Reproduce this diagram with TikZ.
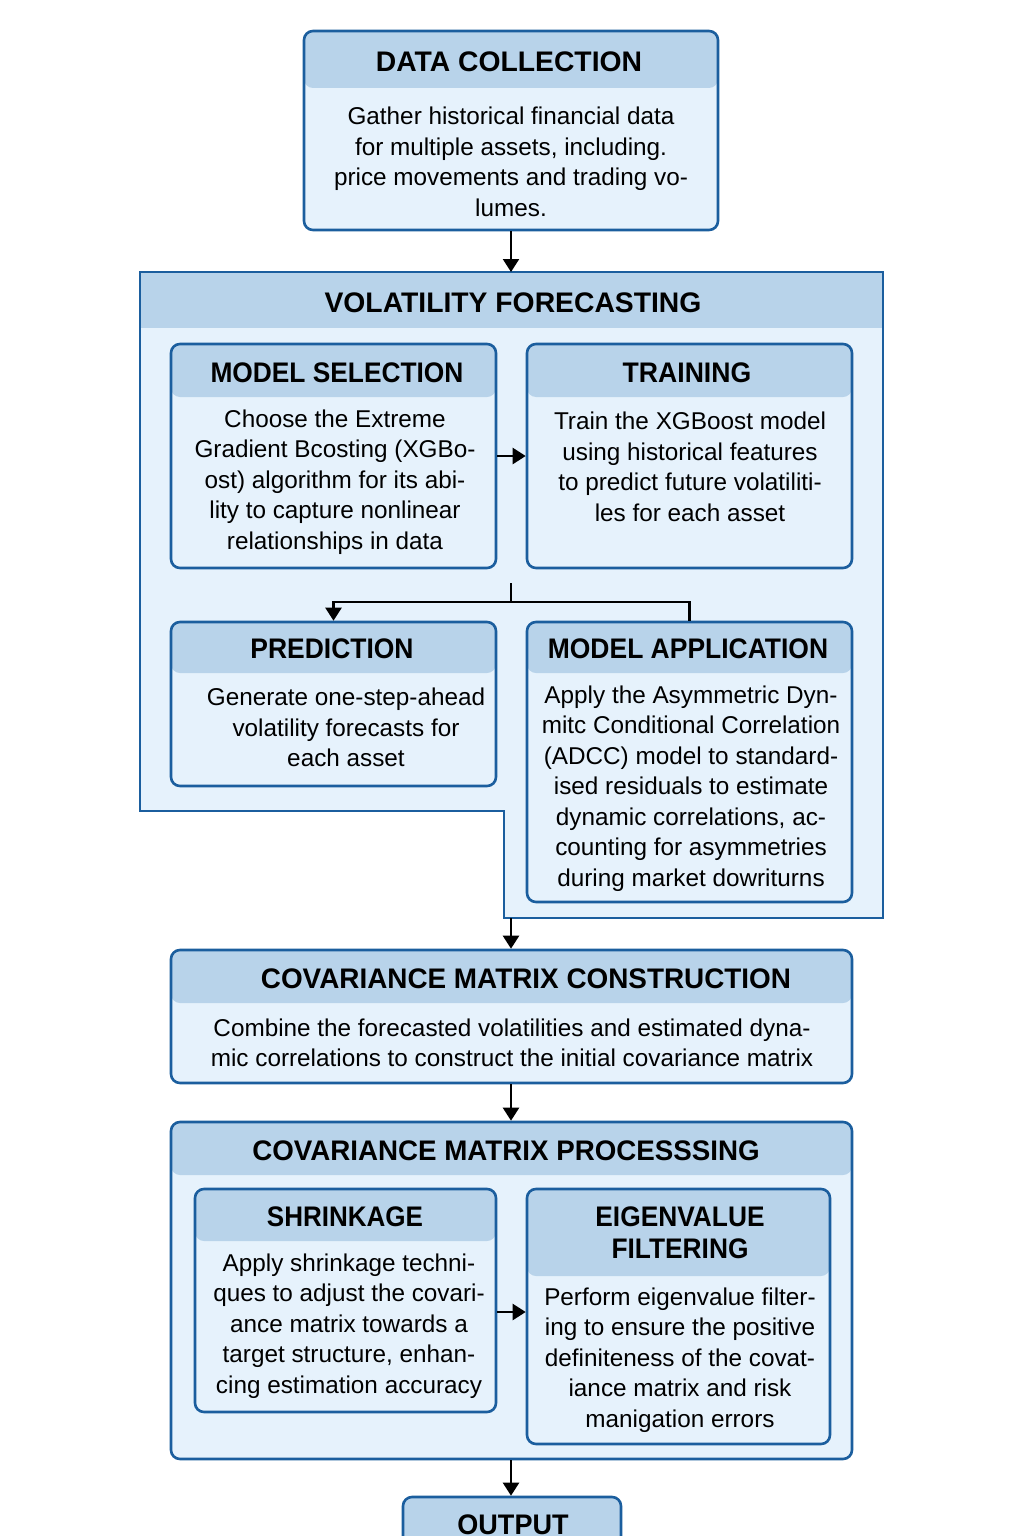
\documentclass[tikz,border=0pt]{standalone}
\usepackage{fontspec}
\setmainfont{Liberation Sans}
\usetikzlibrary{arrows.meta}
\definecolor{bdr}{HTML}{1B5E9E}
\definecolor{hdrc}{HTML}{B8D3EA}
\definecolor{bodyc}{HTML}{E6F2FC}
\newcommand\hsqz[2]{\scalebox{#1}[1]{#2}}
\tikzset{
  hbox/.style={draw=bdr, line width=2.6pt, fill=bodyc, rounded corners=9pt, inner sep=0pt,
    path picture={\fill[hdrc] ([yshift=3pt]path picture bounding box.north west) rectangle ([yshift=-#1]path picture bounding box.north east);}},
  sz/.style 2 args={minimum width=#1, minimum height=#2},
  hd/.style={font=\bfseries\fontsize{28.3}{32}\selectfont, align=center, inner sep=0pt},
  bd/.style={font=\fontsize{24.3}{30.5}\selectfont, align=center, inner sep=0pt},
  arr/.style={draw=black, line width=2.3pt, -{Triangle[length=13pt,width=16pt]}},
  ln/.style={draw=black, line width=2.3pt},
}
\begin{document}
\begin{tikzpicture}[x=1pt,y=-1pt]
\useasboundingbox (0,0) rectangle (1024,1536);
\fill[white] (0,0) rectangle (1024,1536);
\begin{scope}
\clip (0,0) rectangle (1024,1536);

% volatility forecasting L-shaped frame
\fill[bodyc] (140,272) -- (883,272) -- (883,918) -- (504,918) -- (504,811) -- (140,811) -- cycle;
\fill[hdrc] (140,272) rectangle (883,328);
\draw[bdr, line width=2.6pt] (140,272) -- (883,272) -- (883,918) -- (504,918) -- (504,811) -- (140,811) -- cycle;
\coordinate (vftop) at (511,272);
\coordinate (vfbot) at (511,918);

% boxes
\node[hbox=57pt, sz={414pt}{199pt}] (dc) at (511,130.5) {};
\node[hbox=53pt, sz={325pt}{224pt}] (ms) at (333.5,456) {};
\node[hbox=53pt, sz={325pt}{224pt}] (tr) at (689.5,456) {};
\node[hbox=51pt, sz={325pt}{164pt}] (pr) at (333.5,704) {};
\node[hbox=51pt, sz={325pt}{280pt}] (ma) at (689.5,762) {};
\node[hbox=53pt, sz={681pt}{133pt}] (cc) at (511.5,1016.5) {};
\node[hbox=53pt, sz={681pt}{337pt}] (cp) at (511.5,1290.5) {};
\node[hbox=52pt, sz={301pt}{223pt}] (sh) at (345.5,1300.5) {};
\node[hbox=87pt, sz={303pt}{255pt}] (ef) at (678.5,1316.5) {};
\node[hbox=80pt, sz={218pt}{103pt}] (out) at (512,1548.5) {};

% texts
\node[hd] (dch) at (509,62) {DATA COLLECTION};
\node[bd] (dcb) at (511,162) {Gather historical financial data\\for multiple assets, including.\\price movements and trading vo-\\lumes.};
\node[hd] (vfh) at (513,303) {VOLATILITY FORECASTING};
\node[hd] (msh) at (337,373) {\hsqz{0.93}{MODEL SELECTION}};
\node[bd] (msb) at (335,482) {Choose the Extreme\\Gradient Bcosting (XGBo-\\ost) algorithm for its abi-\\lity to capture nonlinear\\relationships in data};
\node[hd] (trh) at (687,373) {\hsqz{0.94}{TRAINING}};
\node[bd] (trb) at (690,467) {Train the XGBoost model\\using historical features\\to predict future volatiliti-\\les for each asset};
\node[hd] (prh) at (332,649) {\hsqz{0.935}{PREDICTION}};
\node[bd] (prb) at (346,727.5) {Generate one-step-ahead\\volatility forecasts for\\each asset};
\node[hd] (mah) at (688,649) {\hsqz{0.935}{MODEL APPLICATION}};
\node[bd] (mab) at (691,788.5) {Apply the Asymmetric Dyn-\\mitc Conditional Correlation\\(ADCC) model to standard-\\ised residuals to estimate\\dynamic correlations, ac-\\counting for asymmetries\\during market dowriturns};
\node[hd] (cch) at (526,979) {\hsqz{0.985}{COVARIANCE MATRIX CONSTRUCTION}};
\node[bd] (ccb) at (512,1043) {Combine the forecasted volatilities and estimated dyna-\\mic correlations to construct the initial covariance matrix};
\node[hd] (cph) at (506,1151) {\hsqz{0.98}{COVARIANCE MATRIX PROCESSSING}};
\node[hd] (shh) at (345,1217) {\hsqz{0.92}{SHRINKAGE}};
\node[bd] (shb) at (349,1326) {Apply shrinkage techni-\\ques to adjust the covari-\\ance matrix towards a\\target structure, enhan-\\cing estimation accuracy};
\node[hd] (efh1) at (680,1217) {\hsqz{0.93}{EIGENVALUE}};
\node[hd] (efh2) at (680,1249) {\hsqz{0.93}{FILTERING}};
\node[bd] (efb) at (680,1360) {Perform eigenvalue filter-\\ing to ensure the positive\\definiteness of the covat-\\iance matrix and risk\\manigation errors};
\node[hd] (outh) at (513,1525) {\hsqz{0.955}{OUTPUT}};

% connectors
\draw[arr] (dc.south) -- (vftop);
\draw[arr] (ms.east) -- (tr.west);
\coordinate (sp) at (511,583);
\coordinate (jn) at (511,602);
\draw[ln] (sp) -- (jn);
\draw[arr] (jn) -| (pr.north);
\draw[ln] (jn) -| (ma.north);
\draw[arr] (vfbot) -- (vfbot |- cc.north);
\draw[arr] (cc.south -| vfbot) -- (vfbot |- cp.north);
\draw[arr] ([yshift=-11.5pt]sh.east) -- ([yshift=-11.5pt]sh.east -| ef.west);
\draw[arr] (cp.south -| vfbot) -- (vfbot |- out.north);
\end{scope}
\end{tikzpicture}
\end{document}
